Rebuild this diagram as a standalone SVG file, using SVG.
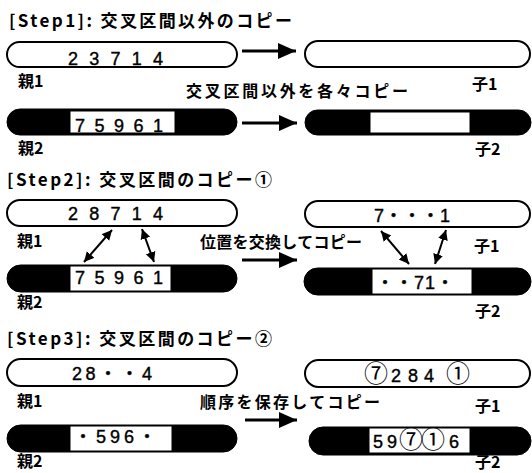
<svg xmlns="http://www.w3.org/2000/svg" width="532" height="473" viewBox="0 0 532 473">
<defs>
<marker id="big" markerUnits="userSpaceOnUse" markerWidth="20" markerHeight="18" refX="18" refY="8" orient="auto">
<path d="M0,0 L18,8 L0,16 z" fill="#000"/>
</marker>
<marker id="sm" markerUnits="userSpaceOnUse" markerWidth="12" markerHeight="12" refX="10" refY="5" orient="auto-start-reverse">
<path d="M0,0 L10,5 L0,10 z" fill="#000"/>
</marker>
</defs>
<style>
.jp{font-family:"Noto Sans CJK JP","Noto Sans CJK SC",sans-serif;font-weight:700;fill:#000}
.ttl{font-size:17px}
.lbl{font-size:16px}
.mid{font-size:16px}
.num{font-family:"Liberation Sans","Noto Sans CJK JP",sans-serif;font-size:18px;fill:#000;stroke:#000;stroke-width:0.4}
.circ{font-family:"Noto Sans CJK JP",sans-serif;font-size:24px;font-weight:400;fill:#000;stroke:none}
.wcap{fill:#fff;stroke:#000;stroke-width:2}
.bcap{fill:#000;stroke:#000;stroke-width:1}
.win{fill:#fff;stroke:#000;stroke-width:1}
.big{stroke:#000;stroke-width:3;fill:none;marker-end:url(#big)}
.sm{stroke:#000;stroke-width:2;fill:none;marker-start:url(#sm);marker-end:url(#sm)}
</style>
<rect width="532" height="473" fill="#fff"/>

<!-- Step 1 -->
<text class="jp ttl" x="9" y="27" textLength="283" lengthAdjust="spacing">[Step1]: 交叉区間以外のコピー</text>
<g id="s1-p1">
<rect class="wcap" x="7" y="42" width="230" height="25" rx="12.5"/>
<text class="num" x="68" y="65" textLength="95" lengthAdjust="spacing">23714</text>
<text class="jp lbl" x="18" y="87">親1</text>
</g>
<g id="s1-c1">
<rect class="wcap" x="305" y="41" width="225" height="26" rx="13"/>
<text class="jp lbl" x="472" y="90">子1</text>
</g>
<g id="s1-p2">
<rect class="bcap" x="7" y="109" width="230" height="26" rx="13"/>
<rect class="win" x="70" y="111" width="105" height="22"/>
<text class="num" x="75" y="132" textLength="88" lengthAdjust="spacing">75961</text>
<text class="jp lbl" x="18" y="154">親2</text>
</g>
<g id="s1-c2">
<rect class="bcap" x="305" y="110" width="226" height="25" rx="12.5"/>
<rect class="win" x="370" y="112" width="100" height="21"/>
<text class="jp lbl" x="475" y="155">子2</text>
</g>
<text class="jp mid" x="186" y="97" textLength="222" lengthAdjust="spacing">交叉区間以外を各々コピー</text>

<!-- Step 2 -->
<text class="jp ttl" x="7" y="186" textLength="265" lengthAdjust="spacing">[Step2]: 交叉区間のコピー①</text>
<g id="s2-p1">
<rect class="wcap" x="7" y="200" width="230" height="26" rx="13"/>
<text class="num" x="68" y="220" textLength="95" lengthAdjust="spacing">28714</text>
<text class="jp lbl" x="17" y="247">親1</text>
</g>
<g id="s2-c1">
<rect class="wcap" x="305" y="201" width="225" height="26" rx="13"/>
<text class="num" x="374" y="222" textLength="76" lengthAdjust="spacing">7・・・1</text>
<text class="jp lbl" x="474" y="252">子1</text>
</g>
<g id="s2-p2">
<rect class="bcap" x="7" y="265" width="230" height="27" rx="13.5"/>
<rect class="win" x="70" y="266" width="101" height="25"/>
<text class="num" x="75" y="284" textLength="88" lengthAdjust="spacing">75961</text>
<text class="jp lbl" x="17" y="308">親2</text>
</g>
<g id="s2-c2">
<rect class="bcap" x="304" y="268" width="227" height="27" rx="13.5"/>
<rect class="win" x="372" y="269" width="100" height="25"/>
<text class="num" x="376" y="289" textLength="78" lengthAdjust="spacing">・・71・</text>
<text class="jp lbl" x="475" y="317">子2</text>
</g>
<text class="jp mid" x="200" y="248" textLength="162" lengthAdjust="spacing">位置を交換してコピー</text>

<!-- Step 3 -->
<text class="jp ttl" x="7" y="345" textLength="265" lengthAdjust="spacing">[Step3]: 交叉区間のコピー②</text>
<g id="s3-p1">
<rect class="wcap" x="7" y="359" width="230" height="27" rx="13.5"/>
<text class="num" x="72" y="380" textLength="80" lengthAdjust="spacing">28・・4</text>
<text class="jp lbl" x="17" y="407">親1</text>
</g>
<g id="s3-c1">
<rect class="wcap" x="305" y="360" width="225" height="27" rx="13.5"/>
<text class="num" y="382"><tspan class="circ" x="364">⑦</tspan><tspan x="391">2</tspan><tspan x="408">8</tspan><tspan x="424">4</tspan><tspan class="circ" x="446">①</tspan></text>
<text class="jp lbl" x="475" y="412">子1</text>
</g>
<g id="s3-p2">
<rect class="bcap" x="7" y="425" width="230" height="27" rx="13.5"/>
<rect class="win" x="70" y="426" width="102" height="25"/>
<text class="num" x="74" y="443" textLength="82" lengthAdjust="spacing">・596・</text>
<text class="jp lbl" x="17" y="467">親2</text>
</g>
<g id="s3-c2">
<rect class="bcap" x="309" y="427" width="222" height="28" rx="14"/>
<rect class="win" x="369" y="428" width="101" height="25"/>
<text class="num" y="448"><tspan x="373">5</tspan><tspan x="387">9</tspan><tspan class="circ" x="399">⑦</tspan><tspan class="circ" x="421">①</tspan><tspan x="449">6</tspan></text>
<text class="jp lbl" x="475" y="468">子2</text>
</g>
<text class="jp mid" x="200" y="408" textLength="180" lengthAdjust="spacing">順序を保存してコピー</text>

<!-- connectors -->
<g id="connectors">
<line class="big" x1="242" y1="51" x2="296" y2="51"/>
<line class="big" x1="242" y1="123" x2="297" y2="123"/>
<line class="big" x1="242" y1="260" x2="297" y2="260"/>
<line class="big" x1="245" y1="420" x2="297" y2="420"/>
<line class="sm" x1="84" y1="262" x2="112" y2="230"/>
<line class="sm" x1="142" y1="229" x2="154" y2="262"/>
<line class="sm" x1="381" y1="231" x2="409" y2="264"/>
<line class="sm" x1="446" y1="230" x2="435" y2="264"/>
</g>
</svg>
